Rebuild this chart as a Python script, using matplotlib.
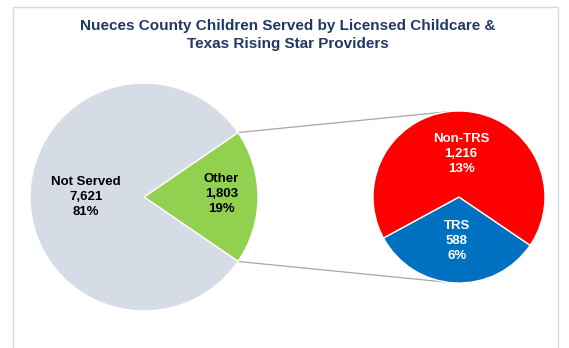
"""
Pie-of-pie chart: Nueces County children served by licensed childcare / TRS providers.
"""

from matplotlib import pyplot as plt
from matplotlib.patches import Rectangle
import numpy as np

# main pie
main_labels = ['Other', 'Not Served']
main_values = [1803, 7621]

# breakdown of "Other"
sub_labels = ['TRS', 'Non-TRS']
sub_values = [588, 1216]

title = 'Nueces County Children Served by Licensed Childcare &\nTexas Rising Star Providers'

plt.rcParams['font.family'] = ['Liberation Sans', 'DejaVu Sans']

W, H = 569, 348
fig = plt.figure(figsize=[W / 100, H / 100], dpi=100)
ax = fig.add_axes([0, 0, 1, 1])
ax.axis('off')

total = sum(main_values)

# left pie
c1, r1 = (144, 151), 114
other_span = 360 * main_values[0] / total
start1 = -other_span / 2
ax.pie(main_values, center=c1, radius=r1, startangle=start1, counterclock=True,
       colors=['#92d050', '#d6dce5'],
       wedgeprops=dict(edgecolor='white', linewidth=1))

# right pie
c2, r2 = (459, 151), 86
start2 = 208.5
ax.pie(sub_values, center=c2, radius=r2, startangle=start2, counterclock=True,
       colors=['#0070c0', '#ff0000'],
       wedgeprops=dict(edgecolor='white', linewidth=1))

ax.set_xlim(0, W)
ax.set_ylim(0, H)
ax.set_aspect('equal')


def pt(c, r, ang, d=1.0):
    a = np.radians(ang)
    return c[0] + d * r * np.cos(a), c[1] + d * r * np.sin(a)


# connector lines
for a1, a2 in [(other_span / 2, 97), (-other_span / 2, 263)]:
    x1, y1 = pt(c1, r1, a1)
    x2, y2 = pt(c2, r2, a2)
    ax.plot([x1, x2], [y1, y2], color='#a6a6a6', linewidth=0.9, zorder=0)


def label(name, v):
    return f'{name}\n{v:,}\n{round(100 * v / total)}%'


# main pie labels
x, y = pt(c1, r1, 180, 0.51)
ax.text(x, y, label(main_labels[1], main_values[1]), ha='center', va='center',
        fontsize=9.5, fontweight='bold', color='black', linespacing=1.35)
x, y = pt(c1, r1, 2, 0.68)
ax.text(x, y, label(main_labels[0], main_values[0]), ha='center', va='center',
        fontsize=9.5, fontweight='bold', color='black', linespacing=1.35)

# sub pie labels
trs_span = 360 * sub_values[0] / sum(sub_values)
x, y = pt(c2, r2, start2 + trs_span + (360 - trs_span) / 2, 0.5)
ax.text(x, y, label(sub_labels[1], sub_values[1]), ha='center', va='center',
        fontsize=9.5, fontweight='bold', color='white', linespacing=1.35)
x, y = pt(c2, r2, start2 + trs_span / 2, 0.51)
ax.text(x, y, label(sub_labels[0], sub_values[0]), ha='center', va='center',
        fontsize=9.5, fontweight='bold', color='white', linespacing=1.35)

ax.text(288, H - 35, title, ha='center', va='center', fontsize=11,
        fontweight='bold', color='#1f3864', linespacing=1.34)

# chart frame
fig.add_artist(Rectangle((12.5 / W, -0.05), (558 - 12.5) / W, 1.05 - 6.5 / H,
                         transform=fig.transFigure, fill=False,
                         edgecolor='#d9d9d9', linewidth=1))

plt.savefig('out.png', dpi=100)
